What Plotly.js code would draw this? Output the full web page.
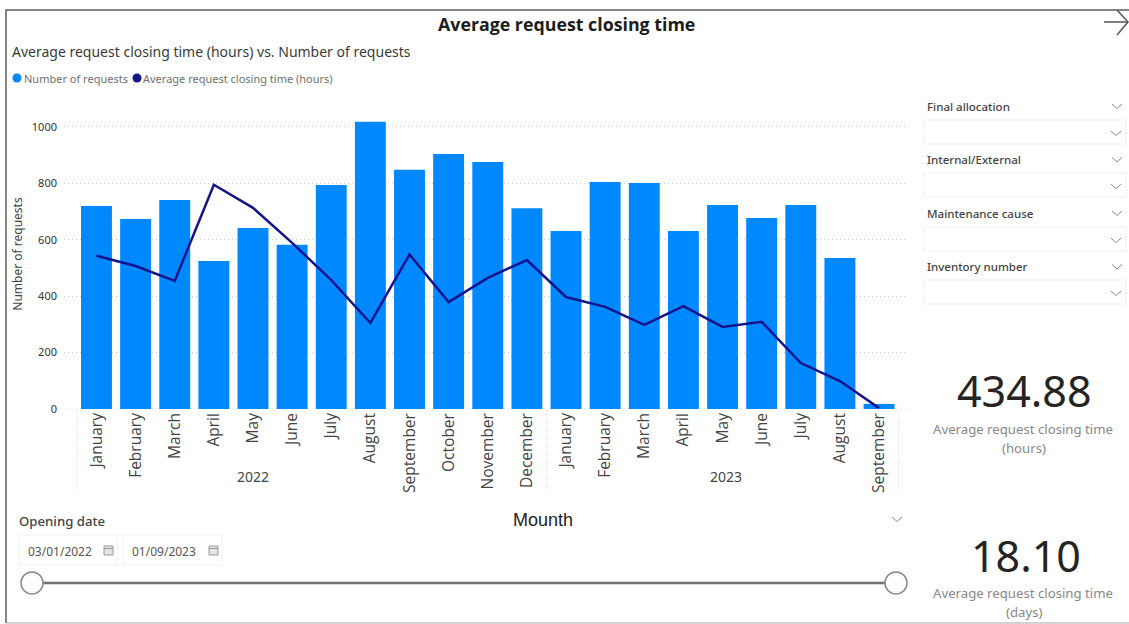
<!DOCTYPE html>
<html>
<head>
<meta charset="utf-8">
<title>Average request closing time</title>
<script src="https://cdn.plot.ly/plotly-3.0.1.min.js"></script>
<style>html,body{margin:0;padding:0;background:#fff;overflow:hidden}#chart{width:1129px;height:624px}</style>
</head>
<body>
<div id="chart"></div>
<script>
// Monthly figures, January 2022 to September 2023
const months = ["January","February","March","April","May","June","July","August","September","October","November","December",
                "January","February","March","April","May","June","July","August","September"];
const requestCounts = [720,674,741,525,642,582,794,1018,848,904,876,712,631,805,801,631,723,677,723,535,18];
const closingHours = [543,507,454,795,713,589,457,305,548,379,465,528,397,362,298,365,291,309,163,99,3];
const yearLabels = ["2022","2023"];
const filterNames = ["Final allocation","Internal/External","Maintenance cause","Inventory number"];
const dateRange = ["03/01/2022","01/09/2023"];
const kpiHours = "434.88";
const kpiDays = "18.10";

const W = 1129, H = 624;
const plot = {left:64, right:908, top:99, bottom:409};
const monthIndex = months.map((_, i) => i);

// Pixel position helpers for the report furniture around the plot
const px = x => (x - plot.left) / (plot.right - plot.left);
const py = y => (plot.bottom - y) / (plot.bottom - plot.top);

const shapes = [];
const annotations = [];

function text(str, x, y, size, color, opts = {}) {
  annotations.push({
    text: str, xref: "paper", yref: "paper", x: px(x), y: py(y),
    xanchor: opts.anchor || "left", yanchor: "middle", showarrow: false,
    font: {family: opts.family || "Noto Sans, sans-serif", size, color, weight: opts.weight || 400}
  });
}
function path(d, color, width) {
  const s = d.map(([c, x, y]) => `${c}${px(x).toFixed(5)},${py(y).toFixed(5)}`).join(" ");
  shapes.push({type:"path", xref:"paper", yref:"paper", path:s, line:{color, width}, layer:"above"});
}
function box(x0, y0, x1, y1, line, width, fill, kind = "rect") {
  shapes.push({type:kind, xref:"paper", yref:"paper", x0:px(x0), x1:px(x1), y0:py(y0), y1:py(y1),
    line:{color:line, width}, fillcolor:fill || "rgba(0,0,0,0)", layer:"above"});
}
function chevron(cx, cy, color = "#8a8a8a") {
  path([["M",cx-5,cy-2],["L",cx,cy+2.5],["L",cx+5,cy-2]], color, 1);
}

// Report frame
path([["M",6,623],["L",6,10],["L",1129,10]], "#5f5f5f", 1.5);
path([["M",6,623],["L",1129,623]], "#a8a8a8", 1);

// Navigation arrow
path([["M",1104,22],["L",1128,22]], "#555555", 1.5);
path([["M",1117,10],["L",1128,22],["L",1117,35]], "#555555", 1.5);

// Headings
text("Average request closing time", 566, 24, 17.8, "#1c1c1c", {anchor:"center", weight:700, family:"Open Sans, sans-serif"});
text("Average request closing time (hours) vs. Number of requests", 10, 51.5, 14, "#3a3a3a");

// Legend row
box(12.5, 73.5, 21.5, 82.5, "#0088ff", 0, "#0088ff", "circle");
text("Number of requests", 21.5, 78, 11, "#707070");
box(132.5, 73.5, 141.5, 82.5, "#14148c", 0, "#14148c", "circle");
text("Average request closing time (hours)", 141, 78, 11, "#707070");

// Baseline dots along the zero line
shapes.push({type:"line", xref:"paper", yref:"y", x0:0, x1:1, y0:0, y1:0,
  line:{color:"#cfcfcf", width:1, dash:"1px,3px"}, layer:"below"});

// Dotted separators between the year groups on the month axis
[-0.5, 11.5, 20.5].forEach(v => shapes.push({
  type:"line", xref:"x", yref:"paper", x0:v, x1:v, y0:py(491), y1:py(410),
  line:{color:"#d4d4d4", width:1, dash:"1px,3px"}, layer:"below"
}));

// Year captions under the month labels
[4, 16.1].forEach((v, i) => annotations.push({
  text: yearLabels[i], xref:"x", yref:"paper", x:v, y:py(477), xanchor:"center", yanchor:"middle",
  showarrow:false, font:{family:"Noto Sans, sans-serif", size:14, color:"#444444"}
}));

// Axis caption and its dropdown marker
text("Mounth", 542.5, 520, 18, "#222222", {anchor:"center", family:"Liberation Sans, sans-serif"});
chevron(897, 519);

// Date range slicer
text("Opening date", 17, 521, 13.2, "#444444", {weight:500});
[[19,117],[123,222]].forEach(([a,b], i) => {
  box(a, 535, b, 565, "#f0f0f0", 1);
  text(dateRange[i], a + 6.5, 551, 12, "#555555");
  box(b - 13, 546, b - 4, 555, "#9a9a9a", 1, "#e4e4e4");
  path([["M",b-13,548.5],["L",b-4,548.5]], "#9a9a9a", 1);
});
path([["M",43,583],["L",885,583]], "#707070", 2.5);
box(21, 572, 43, 594, "#888888", 1.5, "#ffffff", "circle");
box(885, 572, 907, 594, "#888888", 1.5, "#ffffff", "circle");

// Filter dropdowns
filterNames.forEach((name, i) => {
  const y = [106, 159.5, 213, 266.5][i];
  const top = [120, 173, 227, 280][i];
  text(name, 924.5, y, 11.5, "#444444", {weight:500});
  chevron(1117, y);
  box(924, top, 1126, top + 24, "#efefef", 1);
  chevron(1116, top + 13);
});

// KPI cards
text(kpiHours, 1024, 390, 43, "#252423", {anchor:"center"});
text("Average request closing time", 1023, 429, 13.2, "#888888", {anchor:"center"});
text("(hours)", 1024, 448, 13.2, "#888888", {anchor:"center"});
text(kpiDays, 1026, 555, 43, "#252423", {anchor:"center"});
text("Average request closing time", 1023, 593, 13.2, "#888888", {anchor:"center"});
text("(days)", 1024, 612, 13.2, "#888888", {anchor:"center"});

const traces = [
  {type:"bar", name:"Number of requests", x:monthIndex, y:requestCounts, width:0.79,
   marker:{color:"#0088ff"}},
  {type:"scatter", mode:"lines", name:"Average request closing time (hours)", x:monthIndex, y:closingHours,
   line:{color:"#14148c", width:2.5}}
];

const layout = {
  width:W, height:H, autosize:false, showlegend:false,
  paper_bgcolor:"#ffffff", plot_bgcolor:"#ffffff",
  margin:{l:plot.left, r:W-plot.right, t:plot.top, b:H-plot.bottom, pad:0},
  xaxis:{
    range:[-0.83,20.74], tickmode:"array", tickvals:monthIndex, ticktext:months, tickangle:-90,
    showgrid:false, zeroline:false, showline:false, ticks:"", ticklen:0,
    tickfont:{family:"Open Sans, sans-serif", size:15.5, color:"#444444"}
  },
  yaxis:{
    range:[0,1099], tickmode:"array", tickvals:[0,200,400,600,800,1000],
    gridcolor:"#cfcfcf", griddash:"1px,3px", gridwidth:1, zeroline:false, showline:false, ticks:"",
    ticklabelstandoff:6,
    tickfont:{family:"Noto Sans, sans-serif", size:11, color:"#333333"},
    title:{text:"Number of requests", standoff:6, font:{family:"Noto Sans, sans-serif", size:12, color:"#444444"}}
  },
  shapes, annotations
};

Plotly.newPlot("chart", traces, layout, {displayModeBar:false, responsive:false});
</script>
</body>
</html>
